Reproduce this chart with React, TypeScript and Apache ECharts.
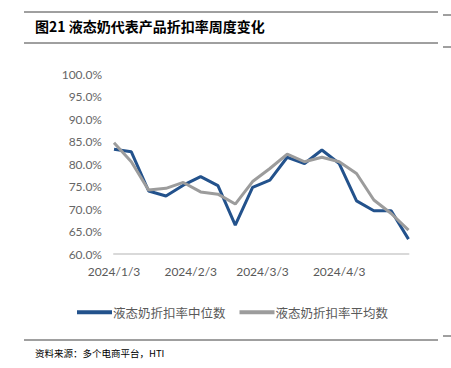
import React, { useEffect, useRef } from "react";
import * as echarts from "echarts";

const dates = [
  "2024/1/3", "2024/1/10", "2024/1/17", "2024/1/24", "2024/1/31",
  "2024/2/7", "2024/2/14", "2024/2/21", "2024/2/28",
  "2024/3/6", "2024/3/13", "2024/3/20", "2024/3/27",
  "2024/4/3", "2024/4/10", "2024/4/17", "2024/4/24", "2024/5/1",
];
const medianValues = [83.3, 82.7, 74.0, 72.9, 75.3, 77.2, 75.2, 66.4, 74.8, 76.4, 81.5, 80.1, 83.1, 80.1, 71.8, 69.6, 69.6, 63.3];
const meanValues = [84.7, 80.5, 74.2, 74.6, 75.9, 73.8, 73.3, 71.1, 76.1, 79.0, 82.2, 80.5, 81.5, 80.5, 77.9, 72.0, 69.0, 65.3];
const tickLabels = ["2024/1/3", "2024/2/3", "2024/3/3", "2024/4/3"];
const seriesNames = ["液态奶折扣率中位数", "液态奶折扣率平均数"];
const title = "图21 液态奶代表产品折扣率周度变化";
const source = "资料来源：多个电商平台，HTI";

const DAY = 86400000;
const toTs = (s: string) => {
  const [y, m, d] = s.split("/").map(Number);
  return Date.UTC(y, m - 1, d);
};
const t0 = toTs(dates[0]);
const toDay = (s: string) => Math.round((toTs(s) - t0) / DAY);
const fromDay = (n: number) => {
  const d = new Date(t0 + n * DAY);
  return `${d.getUTCFullYear()}/${d.getUTCMonth() + 1}/${d.getUTCDate()}`;
};

export default function App() {
  const ref = useRef<HTMLDivElement>(null);
  useEffect(() => {
    if (!ref.current) return;
    const chart = echarts.init(ref.current, null, { renderer: "svg" });
    const ruleColor = "#404040";
    const hline = (x1: number, x2: number, y: number) => ({
      type: "line",
      shape: { x1, y1: y, x2, y2: y },
      style: { stroke: ruleColor, lineWidth: 1 },
      silent: true,
    });
    chart.setOption({
      animation: false,
      backgroundColor: "#ffffff",
      grid: { left: 114, right: 42.5, top: 74, bottom: 114, containLabel: false },
      legend: {
        left: 72,
        top: 301,
        itemWidth: 35,
        itemHeight: 4,
        itemGap: 14,
        icon: "rect",
        textStyle: {
          fontFamily: "Noto Sans CJK SC",
          fontSize: 12.5,
          color: "#595959",
          padding: [0, 0, 0, -4],
        },
        data: seriesNames,
      },
      xAxis: {
        type: "value",
        min: 0,
        max: toDay(dates[dates.length - 1]),
        axisLine: { lineStyle: { color: "#d9d9d9", width: 2 } },
        axisTick: { show: false },
        splitLine: { show: false },
        axisLabel: {
          customValues: tickLabels.map(toDay),
          hideOverlap: false,
          margin: 11,
          color: "#595959",
          fontFamily: "Lato",
          fontSize: 12,
          formatter: (v: number) => fromDay(v),
        },
      },
      yAxis: {
        type: "value",
        min: 60,
        max: 100,
        interval: 5,
        axisLine: { show: false },
        axisTick: { show: false },
        splitLine: { show: false },
        axisLabel: {
          margin: 12,
          color: "#666666",
          fontFamily: "Lato",
          fontSize: 12,
          formatter: (v: number) => v.toFixed(1) + "%",
        },
      },
      series: [
        {
          name: seriesNames[0],
          type: "line",
          data: dates.map((d, i) => [toDay(d), medianValues[i]]),
          showSymbol: false,
          lineStyle: { color: "#23528c", width: 3 },
          itemStyle: { color: "#23528c" },
          z: 2,
        },
        {
          name: seriesNames[1],
          type: "line",
          data: dates.map((d, i) => [toDay(d), meanValues[i]]),
          showSymbol: false,
          lineStyle: { color: "#9c9c9c", width: 3 },
          itemStyle: { color: "#9c9c9c" },
          z: 3,
        },
      ],
      graphic: [
        hline(24, 438, 12),
        hline(24, 438, 43),
        hline(24, 438, 340),
        hline(443, 451, 15),
        hline(443, 451, 47),
        hline(443, 451, 336),
        {
          type: "text",
          left: 35,
          top: 19,
          style: {
            text: title,
            fill: "#000000",
            font: "bold 14px 'Noto Sans CJK SC'",
          },
        },
        {
          type: "text",
          left: 35,
          top: 348,
          style: {
            text: source,
            fill: "#000000",
            font: "9.5px 'Noto Sans CJK SC'",
          },
        },
      ],
    });
    return () => chart.dispose();
  }, []);
  return (
    <div
      ref={ref}
      style={{ position: "fixed", left: 0, top: 0, width: 451, height: 368 }}
    />
  );
}
